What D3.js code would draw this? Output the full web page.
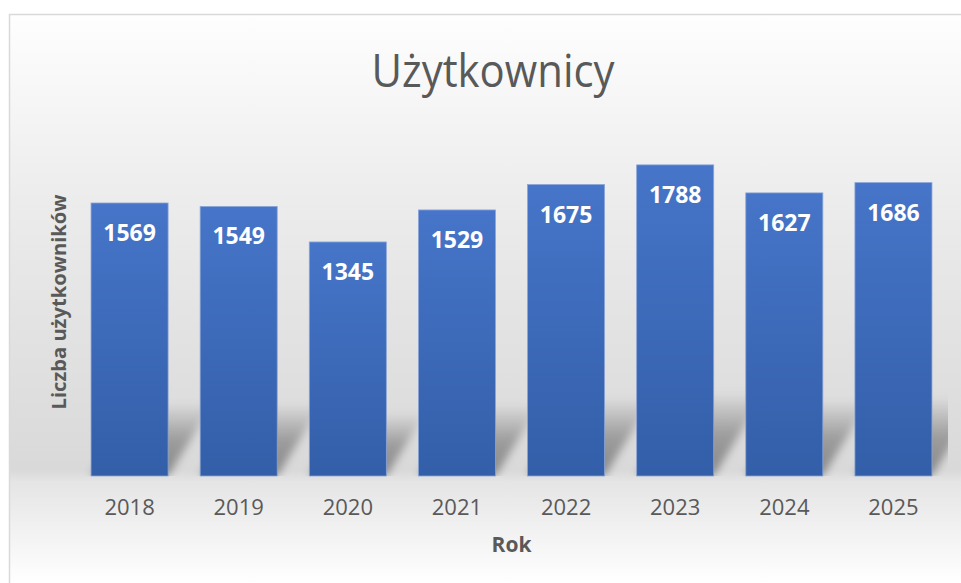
<!DOCTYPE html>
<meta charset="utf-8">
<script src="https://d3js.org/d3.v7.min.js"></script>
<style>
  body { margin: 0; background: #fff; }
  text { font-family: "Open Sans", sans-serif; }
</style>
<div id="chart"></div>
<script>
  // data
  var years = ["2018", "2019", "2020", "2021", "2022", "2023", "2024", "2025"];
  var users = [1569, 1549, 1345, 1529, 1675, 1788, 1627, 1686];
  var title = "Użytkownicy";
  var xTitle = "Rok";
  var yTitle = "Liczba użytkowników";

  var width = 961, height = 583;
  var plot = { left: 75, right: 948, top: 128, bottom: 476 };

  var svg = d3.select("#chart").append("svg")
    .attr("width", width)
    .attr("height", height);

  var defs = svg.append("defs");

  // chart area background: white -> grey -> white
  var bg = defs.append("linearGradient").attr("id", "bg")
    .attr("gradientUnits", "userSpaceOnUse")
    .attr("x1", 0).attr("y1", 14).attr("x2", 0).attr("y2", height);
  [[14, "#fefefe"], [100, "#f6f6f6"], [200, "#ececec"], [350, "#e1e1e1"],
   [470, "#d9d9d9"], [482, "#e5e5e5"], [583, "#ffffff"]].forEach(function (s) {
    bg.append("stop").attr("offset", (s[0] - 14) / (height - 14)).attr("stop-color", s[1]);
  });

  var barGrad = defs.append("linearGradient").attr("id", "bar")
    .attr("x1", 0).attr("y1", 0).attr("x2", 0).attr("y2", 1);
  barGrad.append("stop").attr("offset", 0).attr("stop-color", "#4675c9");
  barGrad.append("stop").attr("offset", 1).attr("stop-color", "#335ea8");

  var shGrad = defs.append("linearGradient").attr("id", "sh")
    .attr("x1", 0).attr("y1", 1).attr("x2", 0).attr("y2", 0);
  shGrad.append("stop").attr("offset", 0).attr("stop-color", "#000").attr("stop-opacity", 0.38);
  shGrad.append("stop").attr("offset", 0.5).attr("stop-color", "#000").attr("stop-opacity", 0.28);
  shGrad.append("stop").attr("offset", 1).attr("stop-color", "#000").attr("stop-opacity", 0);

  defs.append("filter").attr("id", "blur")
    .attr("x", "-20%").attr("y", "-20%").attr("width", "140%").attr("height", "140%")
    .append("feGaussianBlur").attr("stdDeviation", 4.5);

  defs.append("clipPath").attr("id", "plotclip")
    .append("rect")
    .attr("x", plot.left).attr("y", plot.top)
    .attr("width", plot.right - plot.left).attr("height", plot.bottom - plot.top);

  svg.append("rect")
    .attr("x", 9.5).attr("y", 14.5)
    .attr("width", width + 10).attr("height", height)
    .attr("fill", "url(#bg)")
    .attr("stroke", "#d9d9d9")
    .attr("stroke-width", 1.5);

  var x = d3.scaleBand()
    .domain(years)
    .range([plot.left, plot.right])
    .paddingInner(0.294)
    .paddingOuter(0.147);

  var y = d3.scaleLinear()
    .domain([0, 2000])
    .range([plot.bottom, plot.top]);

  var data = years.map(function (yr, i) { return { year: yr, value: users[i] }; });

  // perspective shadows behind bars
  svg.append("g").attr("clip-path", "url(#plotclip)")
    .append("g").attr("filter", "url(#blur)")
    .selectAll("polygon")
    .data(data)
    .join("polygon")
    .attr("fill", "url(#sh)")
    .attr("points", function (d) {
      var x0 = x(d.year), x1 = x0 + x.bandwidth();
      var base = y(0);
      var sh = (y(0) - y(d.value)) * 0.27;
      var dx = sh * 0.62;
      return [[x0, base], [x1, base], [x1 + dx, base - sh], [x0 + dx, base - sh]].join(" ");
    });

  // bars
  svg.append("g")
    .selectAll("rect")
    .data(data)
    .join("rect")
    .attr("x", function (d) { return x(d.year); })
    .attr("y", function (d) { return y(d.value); })
    .attr("width", x.bandwidth())
    .attr("height", function (d) { return y(0) - y(d.value); })
    .attr("fill", "url(#bar)")
    .attr("stroke", "#8aa5d6")
    .attr("stroke-width", 0.8);

  // value labels inside end
  svg.append("g")
    .selectAll("text")
    .data(data)
    .join("text")
    .attr("x", function (d) { return x(d.year) + x.bandwidth() / 2; })
    .attr("y", function (d) { return y(d.value) + 38; })
    .attr("text-anchor", "middle")
    .attr("fill", "#fff")
    .attr("font-weight", "bold")
    .attr("font-size", 23)
    .text(function (d) { return d.value; });

  // x axis labels
  var xAxis = svg.append("g")
    .attr("transform", "translate(0," + plot.bottom + ")")
    .call(d3.axisBottom(x).tickSize(0).tickPadding(0));
  xAxis.select(".domain").remove();
  xAxis.selectAll("text")
    .attr("dy", null)
    .attr("y", 39)
    .attr("fill", "#595959")
    .attr("font-size", 22)
    .attr("font-family", "Open Sans, sans-serif");

  // titles
  svg.append("text")
    .attr("x", 493).attr("y", 87)
    .attr("text-anchor", "middle")
    .attr("fill", "#595959")
    .attr("font-size", 46)
    .attr("textLength", 243)
    .attr("lengthAdjust", "spacingAndGlyphs")
    .text(title);

  svg.append("text")
    .attr("x", (plot.left + plot.right) / 2).attr("y", 552)
    .attr("text-anchor", "middle")
    .attr("fill", "#595959")
    .attr("font-size", 21)
    .attr("font-weight", "bold")
    .text(xTitle);

  svg.append("text")
    .attr("transform", "translate(66," + (plot.top + plot.bottom) / 2 + ") rotate(-90)")
    .attr("text-anchor", "middle")
    .attr("fill", "#595959")
    .attr("font-size", 20)
    .attr("font-weight", "bold")
    .attr("textLength", 215)
    .attr("lengthAdjust", "spacingAndGlyphs")
    .text(yTitle);
</script>
